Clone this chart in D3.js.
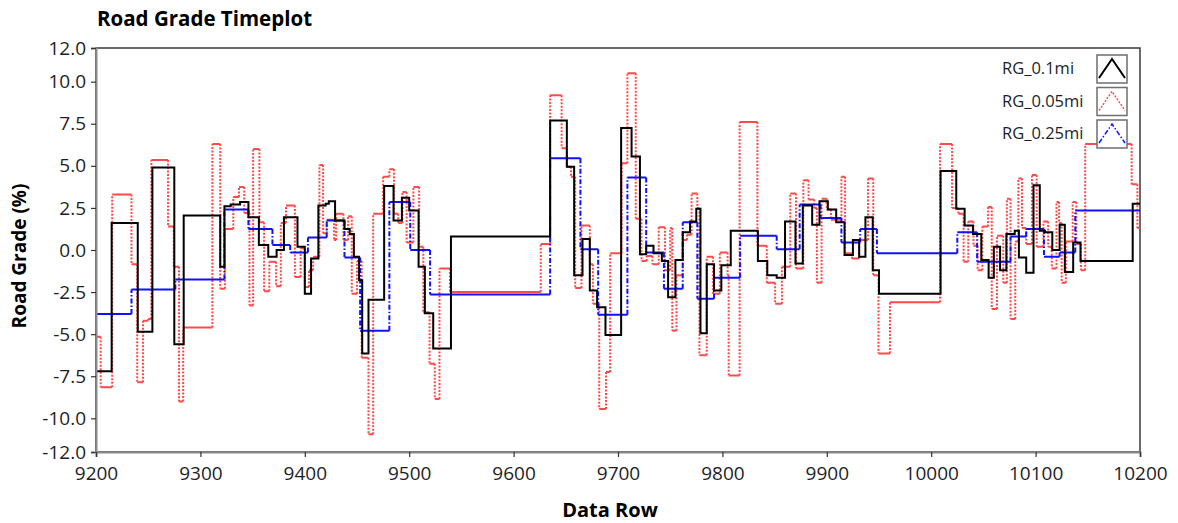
<!DOCTYPE html>
<html>
<head>
<meta charset="utf-8">
<script src="https://cdn.jsdelivr.net/npm/d3@7"></script>
<style>
  body { margin: 0; background: #fff; }
  svg text { font-family: "Open Sans", "Noto Sans", sans-serif; }
</style>
</head>
<body>
<svg id="chart" width="1178" height="523"></svg>
<script>
// ==========================
// DATA  ([data row, road grade %], step-after)
// ==========================
const rg01 = [
  [9200,-7.2],[9215,1.6],[9240,-4.85],[9254,4.9],[9275,-5.6],[9284,2.05],[9319,-1.0],[9323,2.6],
  [9329,2.7],[9338,2.85],[9346,1.95],[9356,0.3],[9365,-0.4],[9373,0.0],[9380,1.95],[9393,0.2],
  [9400,-2.6],[9406,-0.5],[9413,2.65],[9420,2.75],[9423,2.9],[9429,1.75],[9438,1.25],[9443,0.95],
  [9447,-0.4],[9452,-1.8],[9455,-6.15],[9461,-2.95],[9476,3.8],[9485,1.75],[9493,3.1],[9500,2.35],
  [9509,-1.0],[9515,-3.75],[9523,-5.85],[9540,0.8],[9635,7.7],[9651,4.95],[9658,-1.5],[9666,0.65],
  [9673,-2.4],[9680,-3.4],[9688,-5.05],[9703,7.25],[9713,5.55],[9721,-0.25],[9727,0.25],[9734,-0.2],
  [9742,-0.65],[9748,-2.8],[9755,-0.6],[9762,1.05],[9769,1.7],[9775,2.45],[9779,-4.95],[9785,-0.85],
  [9792,-2.4],[9799,-0.9],[9808,1.15],[9834,-0.65],[9843,-1.5],[9852,-1.65],[9860,1.7],[9870,-0.8],
  [9877,2.65],[9886,1.5],[9893,2.9],[9901,2.4],[9909,1.65],[9917,-0.3],[9925,0.6],[9931,-0.4],
  [9937,1.95],[9944,-1.2],[9950,-2.6],[10009,4.7],[10024,2.45],[10032,1.45],[10040,0.95],[10048,-0.6],
  [10055,-1.65],[10060,0.2],[10066,-1.2],[10072,0.95],[10080,1.15],[10084,-0.45],[10091,-1.35],[10098,3.85],
  [10104,1.15],[10109,1.05],[10116,0.0],[10123,1.5],[10128,-1.3],[10136,0.45],[10143,-0.65],[10193,2.75]
];

const rg005 = [
  [9200,-5.15],[9204.5,-8.15],[9215.5,3.3],[9234,-0.85],[9239.5,-7.85],[9245,-4.2],[9250,-4.1],[9253,5.35],
  [9269,1.4],[9274.5,-1.0],[9279.5,-9.0],[9283.5,-4.6],[9311.5,6.3],[9319,-2.3],[9323.5,1.25],[9331.5,3.15],
  [9337,3.75],[9342,2.2],[9347,-3.3],[9350.5,6.0],[9356.5,1.65],[9361,-2.45],[9366,-0.7],[9372.5,-2.15],
  [9377,1.6],[9382,2.65],[9390.5,-1.6],[9396,0.1],[9400,-2.2],[9404,-1.2],[9408,-0.4],[9414,5.05],
  [9417.5,1.0],[9421,1.8],[9428,0.6],[9430,2.15],[9437,0.6],[9441.5,2.0],[9445,-2.6],[9450,-0.65],
  [9454.5,-6.4],[9461,-10.95],[9465.5,2.15],[9475,4.35],[9481,4.8],[9485.5,2.15],[9489.5,1.6],[9493.5,3.45],
  [9497.5,0.45],[9504,3.75],[9509.5,0.2],[9513.5,-3.7],[9519.5,-6.75],[9524.5,-8.85],[9529,-1.1],[9539,-2.5],
  [9626,0.35],[9635,9.2],[9646,6.05],[9651,4.95],[9655,4.35],[9659,-2.25],[9665,1.45],[9673,-0.85],
  [9676,-3.2],[9682,-9.45],[9688.5,-7.25],[9692.5,-0.2],[9703.5,5.15],[9709,10.5],[9717,1.85],[9722.5,-0.65],
  [9727.5,-0.35],[9733,-0.85],[9739,1.35],[9745,-1.2],[9750,1.3],[9752,-4.8],[9756,-1.5],[9762,0.6],
  [9766,0.9],[9770.5,3.35],[9776,2.5],[9778,-6.25],[9785,-0.4],[9791,-2.6],[9797.5,-0.15],[9805,-1.5],
  [9806,-7.45],[9816.5,7.6],[9833.5,0.25],[9842.5,-1.95],[9850.5,-3.2],[9857,-1.0],[9865,3.35],[9870.5,-1.1],
  [9877.5,4.15],[9882.5,3.0],[9888,2.5],[9890.5,-1.95],[9895,3.05],[9900,2.4],[9904,1.8],[9914,4.35],
  [9917.5,-0.2],[9924,-0.5],[9931,0.6],[9939.5,4.25],[9944.5,-1.5],[9949.5,-6.15],[9960.5,-3.1],[10008.5,6.3],
  [10020,2.5],[10026,2.15],[10031,-0.7],[10035.5,1.7],[10040.5,0.25],[10044.5,-1.2],[10049,1.4],[10054.5,2.55],
  [10058,-3.5],[10063,0.85],[10069,-1.95],[10072.5,3.05],[10076,-4.1],[10080.5,0.5],[10083.5,4.25],[10087,1.3],
  [10091,0.35],[10096.5,4.45],[10101,0.2],[10107.5,1.7],[10112,0.2],[10115.5,-1.1],[10120,2.85],[10122.5,1.6],
  [10125,-1.95],[10129,0.5],[10135.5,2.85],[10139,0.35],[10143.5,-1.2],[10147.5,6.3],[10192,3.9],[10197.5,1.3]
];

const rg025 = [
  [9200,-3.8],[9234,-2.35],[9276,-1.75],[9323,2.4],[9346,1.25],[9369,0.3],[9386,-0.15],[9403,0.75],
  [9421,1.75],[9438,-0.45],[9453,-4.8],[9481,2.85],[9501,0.0],[9520,-2.65],[9635,5.45],[9664,0.05],
  [9681,-3.85],[9709,4.3],[9727,-0.15],[9744,-2.3],[9762,1.65],[9776,-2.9],[9792,-1.65],[9817,0.85],
  [9852,0.05],[9874,2.7],[9894,1.9],[9914,0.45],[9932,1.25],[9948,-0.2],[10025,1.05],[10044,-0.7],
  [10076,0.8],[10091,1.25],[10108,-0.4],[10123,-0.15],[10138,2.35]
];

const xTicks = [9200, 9300, 9400, 9500, 9600, 9700, 9800, 9900, 10000, 10100, 10200];
const yTicks = [12, 10, 7.5, 5, 2.5, 0, -2.5, -5, -7.5, -10, -12];

const legendNames = ["RG_0.1mi", "RG_0.05mi", "RG_0.25mi"];

// ==========================
// LAYOUT
// ==========================
const plotLeft = 96, plotRight = 1140, plotTop = 48, plotBottom = 452;

const svg = d3.select("#chart");

const x = d3.scaleLinear().domain([9200, 10200]).range([plotLeft, plotRight]);
const y = d3.scaleLinear().domain([-12, 12]).range([plotBottom, plotTop]);

svg.append("defs").append("clipPath")
    .attr("id", "plot-clip")
  .append("rect")
    .attr("x", plotLeft)
    .attr("y", plotTop)
    .attr("width", plotRight - plotLeft)
    .attr("height", plotBottom - plotTop);

// frame
svg.append("rect")
    .attr("x", plotLeft)
    .attr("y", plotTop)
    .attr("width", plotRight - plotLeft)
    .attr("height", plotBottom - plotTop)
    .attr("fill", "#fff")
    .attr("stroke", "#3a3a3a")
    .attr("stroke-width", 1.5);

// step path split into horizontal runs and vertical jumps
function stepParts(data) {
  let hPath = "", vPath = "";
  data.forEach((d, i) => {
    const x0 = x(d[0]);
    const x1 = i < data.length - 1 ? x(data[i + 1][0]) : x(10200);
    const y0 = y(d[1]);
    hPath += `M${x0},${y0}H${x1}`;
    if (i < data.length - 1) vPath += `M${x1},${y0}V${y(data[i + 1][1])}`;
  });
  return { hPath, vPath };
}

const lines = svg.append("g").attr("clip-path", "url(#plot-clip)");

// red dotted 0.05 mi
const red = stepParts(rg005);
lines.append("path")
    .attr("d", red.hPath)
    .attr("fill", "none")
    .attr("stroke", "#ff4a4a")
    .attr("stroke-width", 2);
lines.append("path")
    .attr("d", red.vPath)
    .attr("fill", "none")
    .attr("stroke", "#ff4a4a")
    .attr("stroke-width", 2)
    .attr("stroke-dasharray", "2,1.5");

// blue dash-dot 0.25 mi
const blue = stepParts(rg025);
lines.append("path")
    .attr("d", blue.hPath)
    .attr("fill", "none")
    .attr("stroke", "#1010ff")
    .attr("stroke-width", 2);
lines.append("path")
    .attr("d", blue.vPath)
    .attr("fill", "none")
    .attr("stroke", "#1010ff")
    .attr("stroke-width", 2)
    .attr("stroke-dasharray", "5,2,1.5,2");

// black solid 0.1 mi
lines.append("path")
    .datum(rg01.concat([[10200, rg01[rg01.length - 1][1]]]))
    .attr("d", d3.line().x(d => x(d[0])).y(d => y(d[1])).curve(d3.curveStepAfter))
    .attr("fill", "none")
    .attr("stroke", "#000")
    .attr("stroke-width", 2);

// ==========================
// AXES
// ==========================
const yAxis = svg.append("g")
    .attr("transform", `translate(${plotLeft},0)`)
    .call(d3.axisLeft(y).tickValues(yTicks).tickSize(5).tickPadding(5)
      .tickFormat(d => d.toFixed(1)));

const xAxis = svg.append("g")
    .attr("transform", `translate(0,${plotBottom})`)
    .call(d3.axisBottom(x).tickValues(xTicks).tickSize(5).tickPadding(10)
      .tickFormat(d => String(d)));

[yAxis, xAxis].forEach(ax => {
  ax.select(".domain").attr("stroke", "#8a8a8a").attr("stroke-width", 2);
  ax.selectAll(".tick line").attr("stroke", "#333").attr("stroke-width", 1.2);
  ax.selectAll(".tick text").attr("fill", "#1e1e28").style("font-size", "19px");
});

// ==========================
// TITLES
// ==========================
svg.append("text")
    .attr("x", 97)
    .attr("y", 26)
    .attr("font-weight", "bold")
    .style("font-size", "20.5px")
    .attr("fill", "#000")
    .text("Road Grade Timeplot");

svg.append("text")
    .attr("x", 610)
    .attr("y", 517)
    .attr("text-anchor", "middle")
    .attr("font-weight", "bold")
    .style("font-size", "20px")
    .text("Data Row");

svg.append("text")
    .attr("transform", `translate(26,256) rotate(-90)`)
    .attr("text-anchor", "middle")
    .attr("font-weight", "bold")
    .style("font-size", "19px")
    .text("Road Grade (%)");

// ==========================
// LEGEND
// ==========================
const legendStyles = [
  { color: "#000", dash: null },
  { color: "#ff4a4a", dash: "2,1.5" },
  { color: "#1010ff", dash: "5,2,1.5,2" }
];

legendNames.forEach((name, i) => {
  const top = 55 + i * 32.5;
  svg.append("text")
      .attr("x", 1002)
      .attr("y", top + 19)
      .style("font-size", "16.5px")
      .attr("fill", "#1e1e28")
      .text(name);

  svg.append("rect")
      .attr("x", 1097)
      .attr("y", top)
      .attr("width", 30)
      .attr("height", 28)
      .attr("fill", "#fff")
      .attr("stroke", "#6e6e6e")
      .attr("stroke-width", 1.5);

  svg.append("path")
      .attr("d", `M${1099},${top + 23}L${1112},${top + 4}L${1125},${top + 23}`)
      .attr("fill", "none")
      .attr("stroke", legendStyles[i].color)
      .attr("stroke-width", i === 0 ? 2 : 1.5)
      .attr("stroke-dasharray", legendStyles[i].dash);
});
</script>
</body>
</html>
